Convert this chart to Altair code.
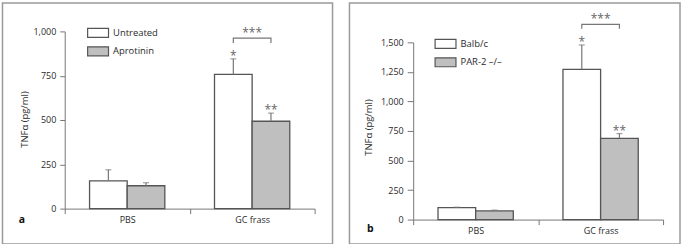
import altair as alt
import pandas as pd

categories = ["PBS", "GC frass"]

a_groups = ["Untreated", "Aprotinin"]
a_means = [157, 129, 757, 493]
a_err = [219, 146, 845, 539]
a_stars = ["", "", "*", "**"]
a_ticks = [0, 250, 500, 750, 1000]
a_bracket = [934, 962, 962, 934]
a_bracket_star = 962

b_groups = ["Balb/c", "PAR-2 \u2013/\u2013"]
b_means = [101, 73, 1272, 688]
b_err = [105, 80, 1478, 728]
b_stars = ["", "", "*", "**"]
b_ticks = [0, 250, 500, 750, 1000, 1250, 1500]
b_bracket = [1615, 1652, 1652, 1615]
b_bracket_star = 1652

FONT = "Open Sans"
TXT = "#2a2a2a"
AX = "#777777"
EDGE = "#555555"
GREY = "#bfbfbf"


def panel(groups, means, errs, stars, ticks, bracket, bstar, letter,
          box, legxy, title_xy, tick_size, H, yrange, lab_y):
    W = 251
    rows = []
    i = 0
    for c in categories:
        for g in groups:
            rows.append({"cat": c, "grp": g, "mean": means[i], "err": errs[i], "star": stars[i]})
            i += 1
    df = pd.DataFrame(rows)
    br = pd.DataFrame({
        "cat": ["GC frass"] * 4,
        "grp": [groups[0], groups[0], groups[1], groups[1]],
        "y": bracket,
        "ord": [0, 1, 2, 3],
    })
    bs = pd.DataFrame({"cat": ["GC frass"], "y": [bstar], "t": ["***"]})
    one = pd.DataFrame({"k": [letter]})

    xs = alt.Scale(domain=categories, paddingInner=0, paddingOuter=0)
    xo = alt.Scale(domain=groups, paddingInner=0, paddingOuter=0.66)
    ys = alt.Scale(domain=[0, ticks[-1]], nice=False, range=yrange)

    XA = alt.Axis(
        title=None, tickBand="extent", labelAngle=0, labelFontSize=9, labelFont=FONT,
        labelColor=TXT, labelPadding=2, tickSize=5, domainColor=AX, tickColor=AX,
        grid=False)
    YA = alt.Axis(
        title="TNF\u03b1 (pg/ml)", values=ticks, tickCount=len(ticks), format=",.0f", labelFontSize=9,
        labelFont=FONT, labelColor=TXT, tickSize=tick_size, labelPadding=4,
        labelOverlap=False, labelBound=False, labelFlush=False,
        domainColor=AX, tickColor=AX, grid=False, titleFont=FONT, titleFontSize=9.5,
        titleFontWeight="normal", titleColor=TXT, titleX=title_xy[0], titleY=title_xy[1],
        titleAngle=270, titleAlign="center", titleBaseline="middle")

    X = alt.X("cat:N", scale=xs, sort=categories, axis=XA)
    XO = alt.XOffset("grp:N", scale=xo, sort=groups)

    def Y(f):
        return alt.Y(f, scale=ys, axis=YA)

    border = alt.Chart(one).mark_rect(fillOpacity=0, stroke="#9a9a9a", strokeWidth=1.5).encode(
        x=alt.value(box[0]), x2=alt.value(box[1]), y=alt.value(box[2]), y2=alt.value(box[3]))

    bars = alt.Chart(df).mark_bar(stroke=EDGE, strokeWidth=1.3).encode(
        x=X, xOffset=XO, y=Y("mean:Q"),
        fill=alt.Fill("grp:N", sort=groups, scale=alt.Scale(domain=groups, range=["white", GREY]),
                      legend=alt.Legend(title=None, orient="none", legendX=legxy[0], legendY=legxy[1],
                                        symbolType="M-2.33,-1L2.33,-1L2.33,1L-2.33,1Z",
                                        symbolSize=81, symbolStrokeColor=EDGE, symbolStrokeWidth=1.2,
                                        symbolOpacity=1, padding=0, symbolOffset=0, labelOffset=9.5,
                                        rowPadding=3.5, labelFont=FONT, labelFontSize=9.5,
                                        labelColor=TXT)))

    ebar = alt.Chart(df).mark_rule(color=AX, strokeWidth=1.2).encode(
        x=X, xOffset=XO, y=Y("mean:Q"), y2="err:Q")
    caps = alt.Chart(df).mark_tick(orient="horizontal", size=6, thickness=1.2, color=AX).encode(
        x=X, xOffset=XO, y=Y("err:Q"))
    st = alt.Chart(df).mark_text(font=FONT, fontSize=12, color="#666", baseline="alphabetic", dy=1).encode(
        x=X, xOffset=XO, y=Y("err:Q"), text="star:N")
    brk = alt.Chart(br).mark_line(color=AX, strokeWidth=1.2).encode(
        x=X, xOffset=alt.XOffset("grp:N", scale=xo, sort=groups),
        y=Y("y:Q"), order="ord:Q")
    bst = alt.Chart(bs).mark_text(font=FONT, fontSize=12, color="#666", baseline="alphabetic", dy=-1).encode(
        x=X, y=Y("y:Q"), text="t:N")
    lab = alt.Chart(one).mark_text(font=FONT, fontSize=10.5, fontWeight="bold", color="#111",
                                    align="center", baseline="middle").encode(
        x=alt.value(-43), y=alt.value(lab_y), text="k:N")

    return alt.layer(border, bars, ebar, caps, st, brk, bst, lab).properties(width=W, height=H)


pa = panel(a_groups, a_means, a_err, a_stars, a_ticks, a_bracket, a_bracket_star, "a",
           (-62.5, 269, -28.5, 213.5), (28, -4), (-40, 88), 5, 178, [178, 0], 189)
pb = panel(b_groups, b_means, b_err, b_stars, b_ticks, b_bracket, b_bracket_star, "b",
           (-64, 268, -28.5, 213.5), (27, 7), (-44.5, 96), 6, 189, [189, 11], 198)

chart = alt.hconcat(pa, pb, spacing=15).resolve_scale(
    x="independent", y="independent", fill="independent", xOffset="independent"
).resolve_legend(fill="independent").configure(
    padding={"left": 1, "top": 1, "right": 0, "bottom": 0}
).configure_view(stroke=None).configure_axis(domainWidth=1, tickWidth=1)

chart.save("out.html", embed_options={"renderer": "svg", "actions": False})
